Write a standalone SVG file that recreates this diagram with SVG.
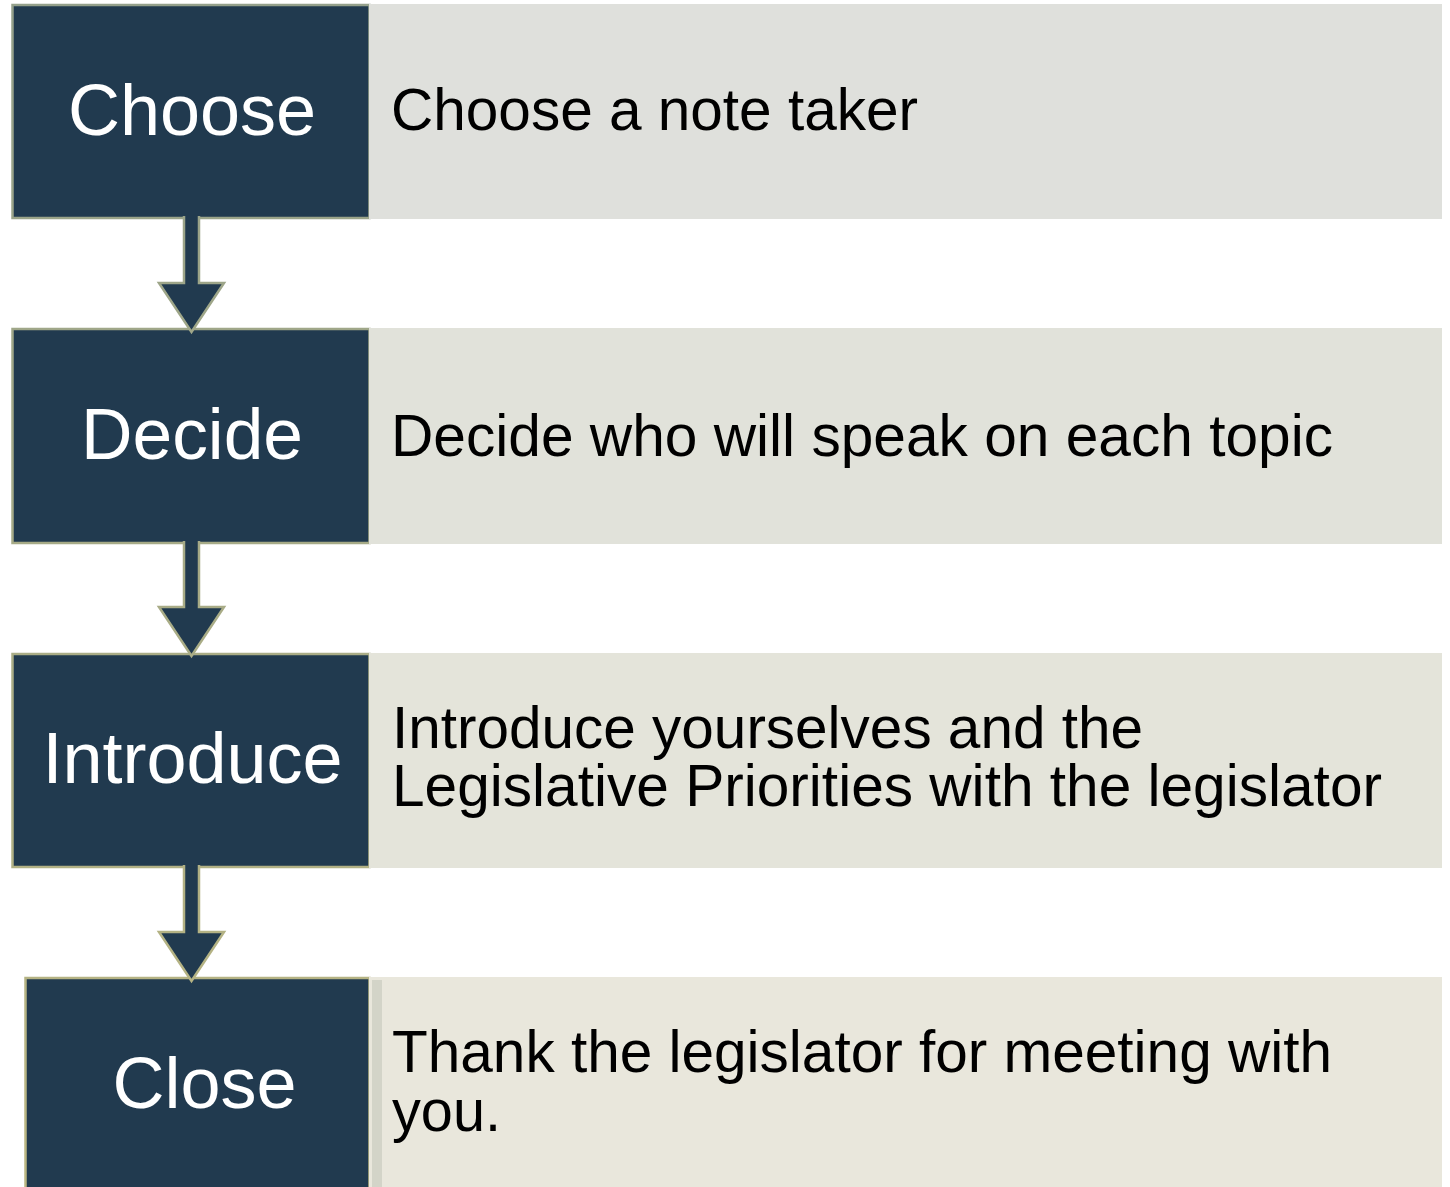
<svg xmlns="http://www.w3.org/2000/svg" width="1450" height="1187" viewBox="0 0 1450 1187">
  <defs>
    <linearGradient id="edge" gradientUnits="userSpaceOnUse" x1="0" y1="0" x2="0" y2="1187">
      <stop offset="0" stop-color="#94a08b"/>
      <stop offset="1" stop-color="#bcb782"/>
    </linearGradient>
  </defs>
  <style>
    .step { fill: #213a4f; stroke: url(#edge); stroke-width: 2.5; }
    .detail { stroke: none; }
    .label { font-family: "Liberation Sans", Arial, sans-serif; font-size: 72px; fill: #ffffff; text-anchor: middle; }
    .desc { font-family: "Liberation Sans", Arial, sans-serif; font-size: 60px; fill: #000000; }
    .arrow { fill: #213a4f; stroke: url(#edge); stroke-width: 2.5; stroke-linejoin: miter; }
  </style>
  <rect width="1450" height="1187" fill="#ffffff"/>

  <g id="node-choose">
    <rect class="step" x="12.5" y="5" width="357" height="213"/>
    <rect class="detail" x="369" y="4" width="1073" height="215" fill="#dfe0dc"/>
    <text class="label" x="192" y="135">Choose</text>
    <text class="desc" x="391" y="130" textLength="527" lengthAdjust="spacingAndGlyphs">Choose a note taker</text>
  </g>

  <g id="node-decide">
    <rect class="step" x="12.5" y="329" width="357" height="214"/>
    <rect class="detail" x="369" y="328" width="1073" height="216" fill="#e1e2da"/>
    <text class="label" x="192" y="459" textLength="222" lengthAdjust="spacingAndGlyphs">Decide</text>
    <text class="desc" x="391" y="456" textLength="942" lengthAdjust="spacingAndGlyphs">Decide who will speak on each topic</text>
  </g>

  <g id="node-introduce">
    <rect class="step" x="12.5" y="654" width="357" height="213"/>
    <rect class="detail" x="369" y="653" width="1073" height="215" fill="#e4e4da"/>
    <text class="label" x="192.5" y="783">Introduce</text>
    <text class="desc" x="392" y="748" textLength="751" lengthAdjust="spacingAndGlyphs">Introduce yourselves and the</text>
    <text class="desc" x="392" y="806" textLength="990" lengthAdjust="spacingAndGlyphs">Legislative Priorities with the legislator</text>
  </g>

  <g id="node-close">
    <rect class="step" x="25.5" y="978" width="344" height="215"/>
    <rect class="detail" x="369" y="977" width="1073" height="215" fill="#e9e7dc"/>
    <rect class="detail" x="372" y="980" width="10" height="212" fill="#d3d4c8"/>
    <text class="label" x="204.5" y="1108">Close</text>
    <text class="desc" x="392" y="1072" textLength="940" lengthAdjust="spacingAndGlyphs">Thank the legislator for meeting with</text>
    <text class="desc" x="392" y="1131" textLength="109" lengthAdjust="spacingAndGlyphs">you.</text>
  </g>

  <g id="connectors">
    <path class="arrow" d="M184,216 V283 H159 L191.5,332 L224,283 H199 V216"/>
    <path class="arrow" d="M184,541 V607 H159 L191.5,656 L224,607 H199 V541"/>
    <path class="arrow" d="M184,865 V932 H159 L191.5,981 L224,932 H199 V865"/>
  </g>
</svg>
